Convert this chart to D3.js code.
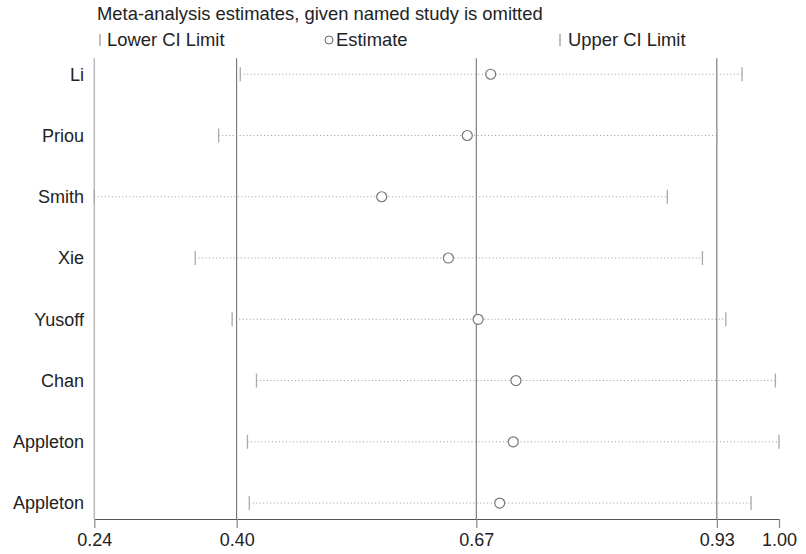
<!DOCTYPE html>
<html>
<head>
<meta charset="utf-8">
<script src="https://cdn.jsdelivr.net/npm/d3@7"></script>
<style>
  body { margin: 0; background: #fff; }
  svg { font-family: "Liberation Sans", Arial, sans-serif; }
</style>
</head>
<body>
<svg id="chart"></svg>
<script>
// studies, top to bottom
var studies = ["Li", "Priou", "Smith", "Xie", "Yusoff", "Chan", "Appleton", "Appleton"]
// estimate with that study left out, and its CI limits
var estimates = [0.680, 0.654, 0.559, 0.633, 0.666, 0.708, 0.705, 0.690]
var lowerCI   = [0.402, 0.378, 0.240, 0.352, 0.393, 0.420, 0.410, 0.412]
var upperCI   = [0.959, 0.931, 0.876, 0.915, 0.941, 0.996, 1.000, 0.969]

// axis ticks (overall lower CI, estimate, upper CI, plus min / max)
var tickVals   = [0.240, 0.398, 0.664, 0.931, 1.000]
var tickLabels = ["0.24", "0.40", "0.67", "0.93", "1.00"]
var refLines   = [0.240, 0.398, 0.664, 0.931]

var screen = {width: 806, height: 554}
var plot = {left: 94.3, right: 779, top: 58.3, bottom: 519}

var svg = d3.select("#chart")
    .attr("width", screen.width)
    .attr("height", screen.height)

var xScale = d3.scaleLinear()
    .domain([0.24, 1.00])
    .range([plot.left, plot.right])

var yScale = d3.scalePoint()
    .domain(d3.range(studies.length))
    .range([plot.top, plot.bottom])
    .padding(0.26)

// title + legend
svg.append("text")
    .attr("x", 97).attr("y", 20)
    .attr("font-size", 18.4).attr("fill", "#222")
    .text("Meta-analysis estimates, given named study is omitted")

var legend = svg.append("g").attr("transform", "translate(0,40)")
legend.append("line").attr("x1", 100).attr("x2", 100).attr("y1", -6).attr("y2", 6)
    .attr("stroke", "#999").attr("stroke-width", 1.3)
legend.append("text").attr("x", 107).attr("y", 6).attr("font-size", 18.4).attr("fill", "#222")
    .text("Lower CI Limit")
legend.append("circle").attr("cx", 329).attr("cy", 0).attr("r", 4)
    .attr("fill", "none").attr("stroke", "#666").attr("stroke-width", 1)
legend.append("text").attr("x", 336).attr("y", 6).attr("font-size", 18.4).attr("fill", "#222")
    .text("Estimate")
legend.append("line").attr("x1", 560).attr("x2", 560).attr("y1", -6).attr("y2", 6)
    .attr("stroke", "#999").attr("stroke-width", 1.3)
legend.append("text").attr("x", 568).attr("y", 6).attr("font-size", 18.4).attr("fill", "#222")
    .text("Upper CI Limit")

// vertical reference lines
svg.append("g").selectAll("line")
    .data(refLines)
    .enter()
    .append("line")
    .attr("x1", function(d){return xScale(d)})
    .attr("x2", function(d){return xScale(d)})
    .attr("y1", plot.top)
    .attr("y2", plot.bottom)
    .attr("stroke", function(d,i){return i == 0 ? "#bbb" : "#666"})
    .attr("stroke-width", function(d,i){return i == 0 ? 1.5 : 1})

// x axis
var xAxis = d3.axisBottom(xScale)
    .tickValues(tickVals)
    .tickFormat(function(d,i){return tickLabels[i]})
    .tickSize(9)
    .tickSizeOuter(0)
    .tickPadding(5)

var ax = svg.append("g")
    .attr("transform", "translate(0," + plot.bottom + ")")
    .call(xAxis)
ax.select(".domain").attr("stroke", "#555")
ax.selectAll(".tick line").attr("stroke", "#888").attr("stroke-width", 1.2)
ax.selectAll(".tick text")
    .attr("font-size", 18)
    .attr("font-family", "Liberation Sans, Arial, sans-serif")
    .attr("fill", "#222")

// rows
var rows = svg.append("g").selectAll("g")
    .data(studies)
    .enter()
    .append("g")
    .attr("transform", function(d,i){return "translate(0," + yScale(i) + ")"})

rows.append("text")
    .attr("x", 84)
    .attr("dy", "0.35em")
    .attr("text-anchor", "end")
    .attr("font-size", 18)
    .attr("fill", "#222")
    .text(function(d){return d})

rows.append("line")
    .attr("x1", function(d,i){return xScale(lowerCI[i])})
    .attr("x2", function(d,i){return xScale(upperCI[i])})
    .attr("stroke", "#999")
    .attr("stroke-width", 1)
    .attr("stroke-dasharray", "1,2.5")

rows.append("line")
    .attr("x1", function(d,i){return xScale(lowerCI[i])})
    .attr("x2", function(d,i){return xScale(lowerCI[i])})
    .attr("y1", -7).attr("y2", 7)
    .attr("stroke", "#aaa").attr("stroke-width", 1.3)

rows.append("line")
    .attr("x1", function(d,i){return xScale(upperCI[i])})
    .attr("x2", function(d,i){return xScale(upperCI[i])})
    .attr("y1", -7).attr("y2", 7)
    .attr("stroke", "#aaa").attr("stroke-width", 1.3)

rows.append("circle")
    .attr("cx", function(d,i){return xScale(estimates[i])})
    .attr("r", 5)
    .attr("fill", "#fff")
    .attr("stroke", "#777")
    .attr("stroke-width", 1.2)
</script>
</body>
</html>
